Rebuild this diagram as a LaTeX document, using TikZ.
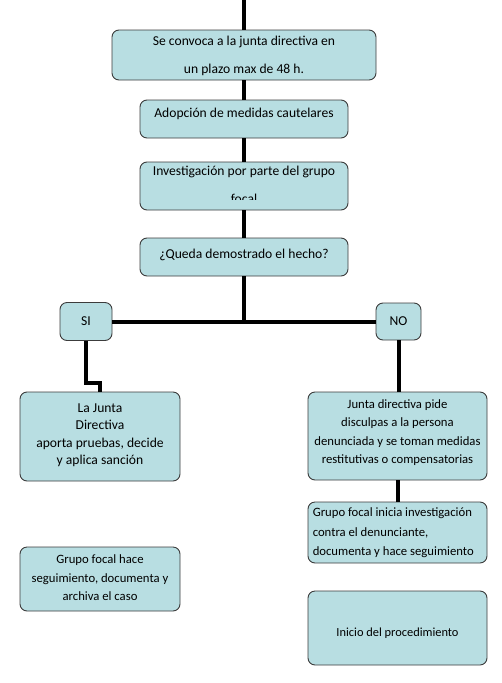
\documentclass[tikz,border=0pt]{standalone}
\usepackage{fontspec}
\setmainfont{Carlito}
\usepackage{xcolor}
\usepackage{tikz}
\usetikzlibrary{positioning}
\definecolor{boxfill}{HTML}{B8DEE2}
\definecolor{boxline}{HTML}{3C3C3C}

\begin{document}
\begin{tikzpicture}[
    x=1pt, y=-1pt,
    box/.style={rectangle, rounded corners=7pt, draw=boxline, line width=0.9pt, fill=boxfill, inner sep=0},
    txt/.style={inner sep=0, align=center, font=\fontsize{13.6}{#1}\selectfont},
    txt/.default=16,
    smalltxt/.style={inner sep=0, align=center, font=\fontsize{12.7}{#1}\selectfont},
    link/.style={draw=black, line width=4pt}]
\useasboundingbox (0,0) rectangle (501,683);

% main column
\node[box, minimum width=264pt, minimum height=50pt] (convoca) at (244,55) {};
\node[box, minimum width=208pt, minimum height=38pt] (adopcion) at (244,119) {};
\node[box, minimum width=208pt, minimum height=48pt] (invest) at (244,186) {};
\node[box, minimum width=208pt, minimum height=38pt] (queda) at (244,257) {};
\node[box, minimum width=52pt, minimum height=38pt, font=\fontsize{13.6}{16}\selectfont] (si) at (86,321.5) {SI};
\node[box, minimum width=45pt, minimum height=37pt, font=\fontsize{13.6}{16}\selectfont] (no) at (398.5,321.5) {NO};

% left branch
\node[box, minimum width=160pt, minimum height=89pt] (junta) at (100,436.5) {};
\node[box, minimum width=160pt, minimum height=64pt] (archiva) at (100,579) {};

% right branch
\node[box, minimum width=179pt, minimum height=88pt] (pide) at (397.5,436) {};
\node[box, minimum width=179pt, minimum height=61pt] (grupoinv) at (397.5,532.5) {};
\node[box, minimum width=179pt, minimum height=74pt] (inicio) at (397.5,628) {};

% texts
\node[txt=28pt, below=6pt of convoca.north] (convocatxt) {Se convoca a la junta directiva en\\un plazo max de 48 h.};
\node[txt, below=8pt of adopcion.north] (adopciontxt) {Adopción de medidas cautelares};
\begin{scope}
  \clip ([xshift=1pt]invest.north west) rectangle ([yshift=11pt]invest.south east);
  \node[txt=28pt, below=4pt of invest.north] (investtxt) {Investigación por parte del grupo\\focal};
\end{scope}
\node[txt, below=11pt of queda.north] (quedatxt) {¿Queda demostrado el hecho?};
\node[txt=17.5pt, below=12pt of junta.north] (juntatxt) {La Junta\\Directiva\\aporta pruebas, decide\\y aplica sanción};
\node[smalltxt=18.5pt, below=8pt of archiva.north] (archivatxt) {Grupo focal hace\\seguimiento, documenta y\\archiva el caso};
\node[smalltxt=18.3pt, below=8pt of pide.north] (pidetxt) {Junta directiva pide\\disculpas a la persona\\denunciada y se toman medidas\\restitutivas o compensatorias};
\begin{scope}
  \clip (grupoinv.north west) rectangle ([yshift=6pt]grupoinv.south east);
  \node[smalltxt=19.5pt, align=left, anchor=north west] (grupoinvtxt) at ([xshift=5pt, yshift=-6pt]grupoinv.north west) {Grupo focal inicia investigación\\contra el denunciante,\\documenta y hace seguimiento};
\end{scope}
\node[smalltxt, below=37pt of inicio.north, font=\fontsize{12.4}{15}\selectfont] (iniciotxt) {Inicio del procedimiento};

% connectors
\coordinate (entrada) at (244,0);
\path[link] (entrada) -- (convoca.north);
\path[link] (convoca) -- (adopcion);
\path[link] (adopcion) -- (invest);
\path[link] (invest) -- (queda);
\path[link] (queda.south) -- (queda.south |- si.east);
\path[link] (si.east) -- (no.west);
\path[link] (si.south) -- ++(0,42) -| (junta.north);
\path[link] (no.south) -- (no.south |- pide.north);
\path[link] (pide.south) -- (grupoinv.north);

\end{tikzpicture}
\end{document}
